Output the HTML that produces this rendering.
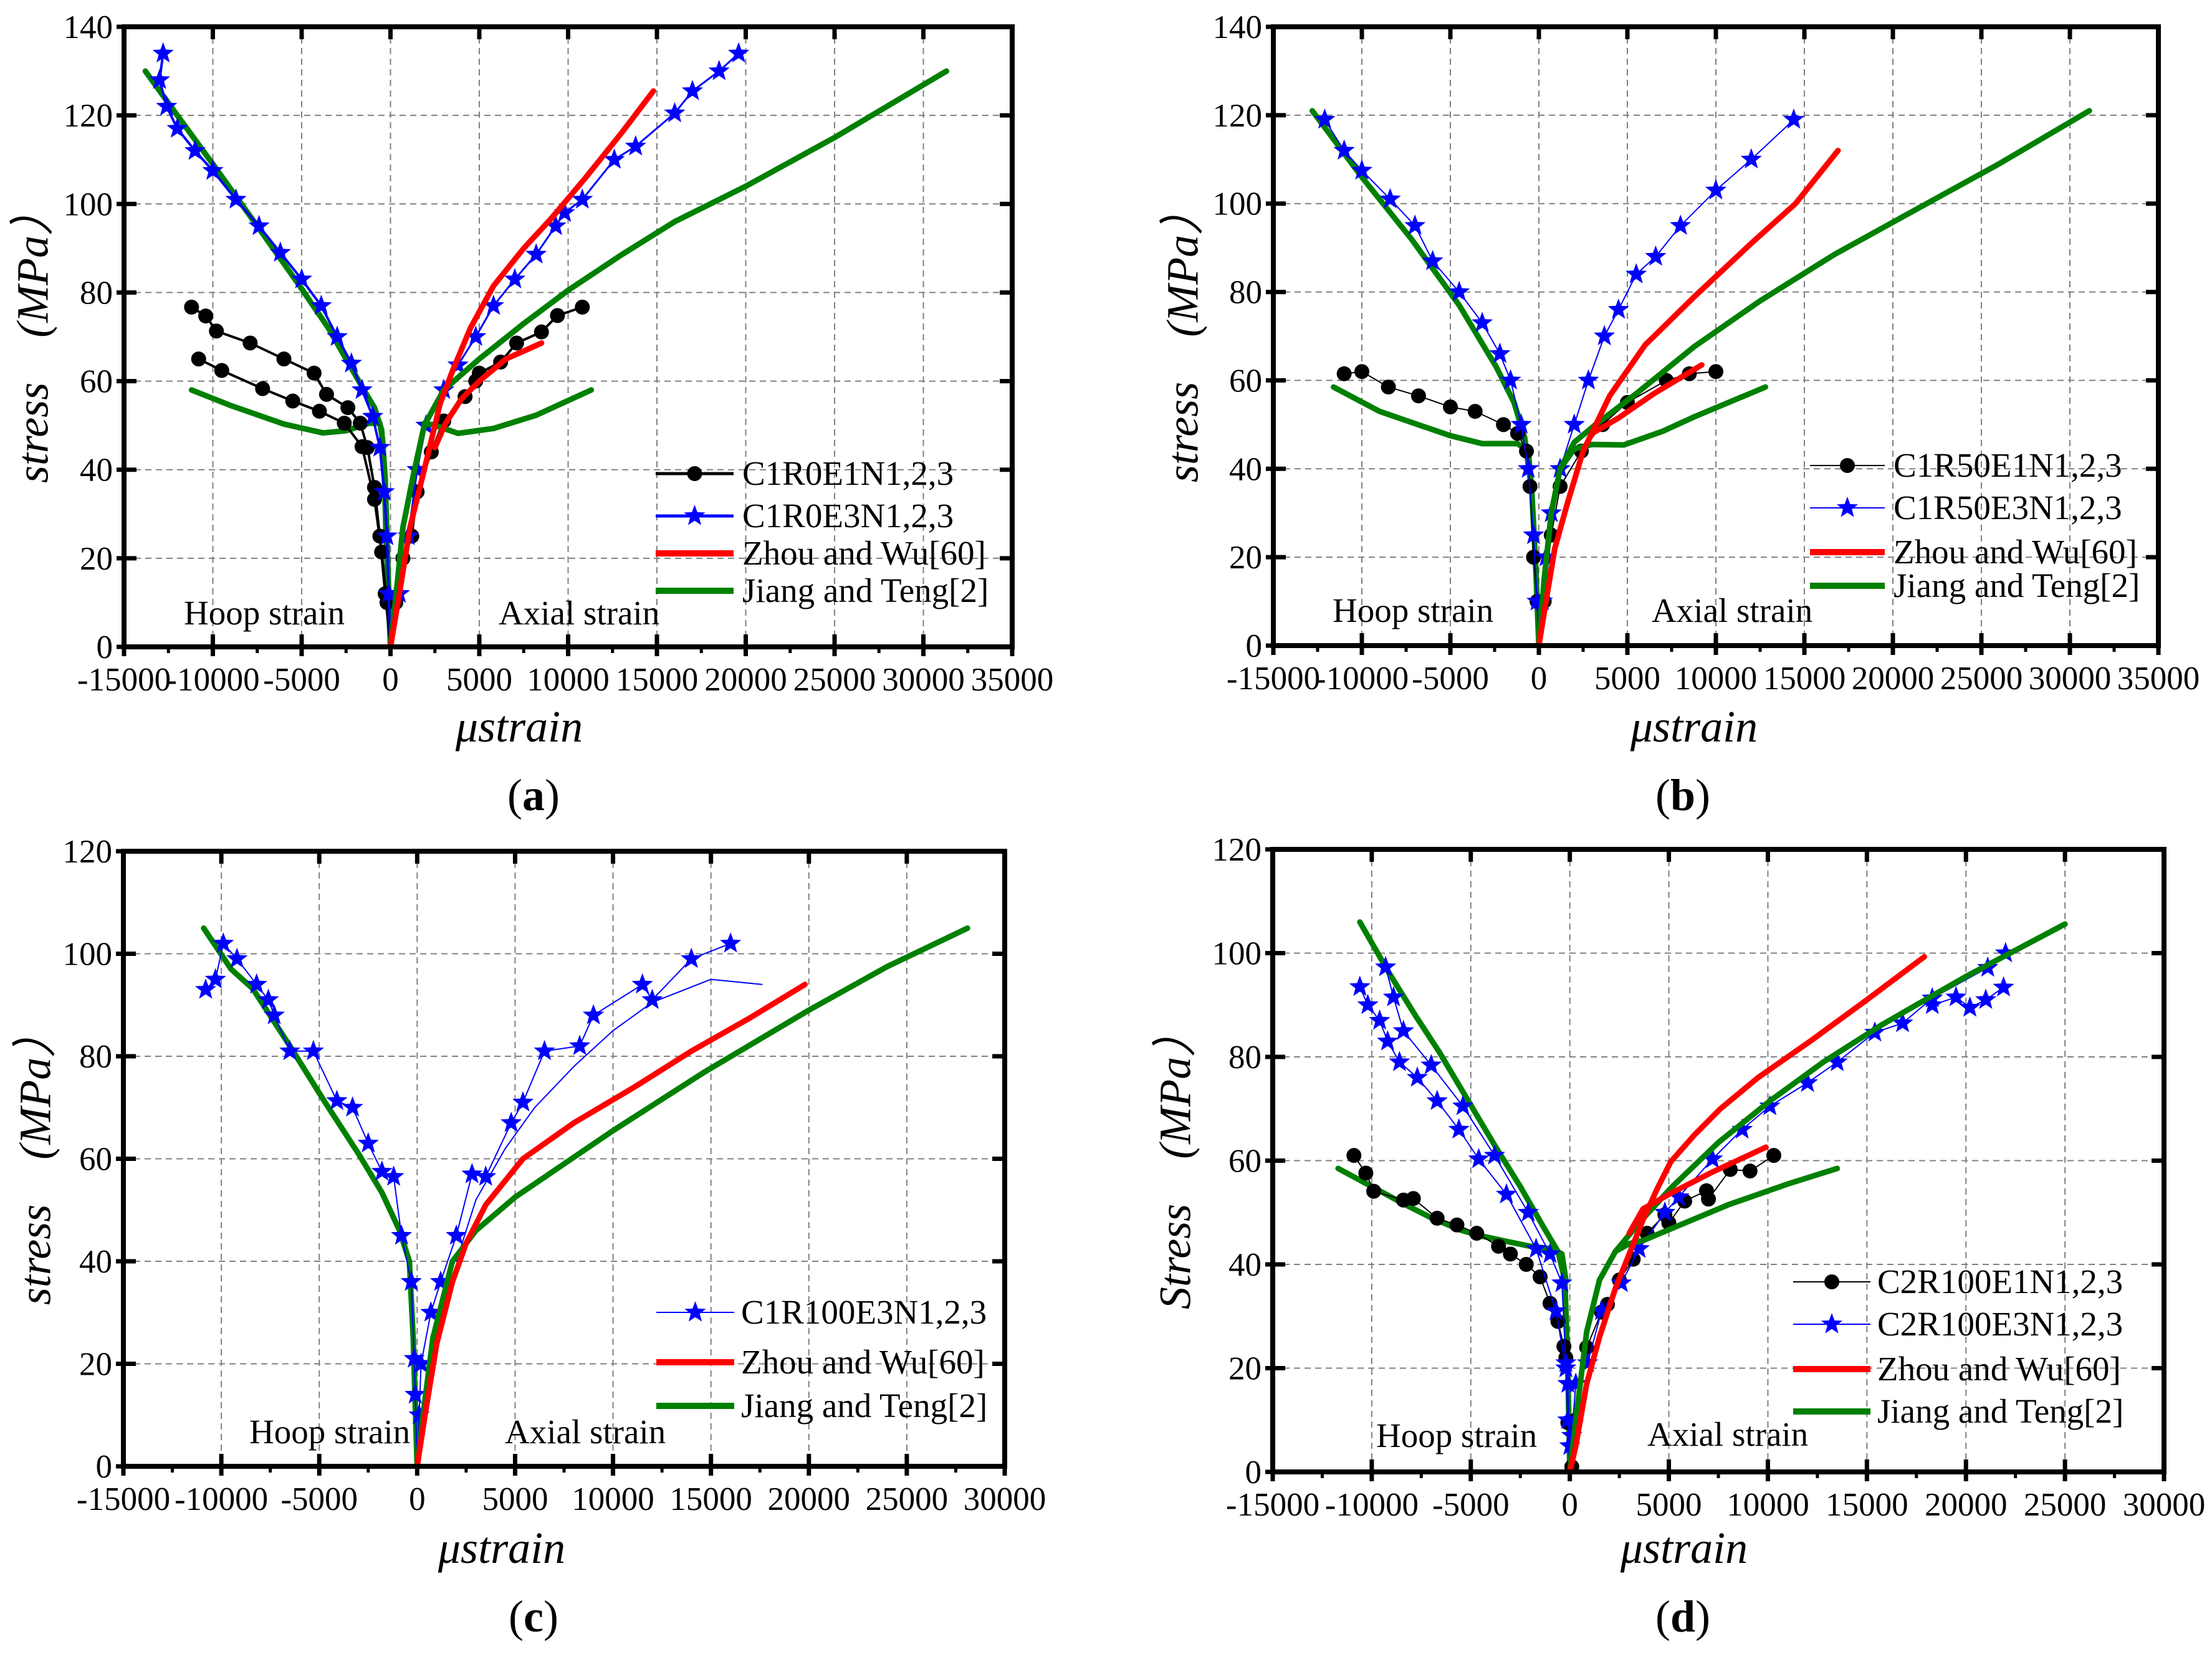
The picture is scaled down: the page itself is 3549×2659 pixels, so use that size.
<!DOCTYPE html>
<html><head><meta charset="utf-8"><style>
html,body{margin:0;padding:0;background:#fff}
svg{display:block;font-family:"Liberation Serif",serif}
</style></head><body>
<svg id="fig" xmlns="http://www.w3.org/2000/svg" width="3549" height="2659" viewBox="0 0 3549 2659"></svg>
<script>
// ---------- DATA (microstrain, MPa) ----------
// Panel (a)
const a_jt_hoop1 = [[-13800,130],[-12000,120],[-10000,109],[-7500,95],[-5300,82.6],[-3500,72],[-2500,65],[-1500,58],[-900,54],[-500,49],[-350,40],[-250,25],[-100,10],[0,0]];
const a_jt_hoop2 = [[-11200,58],[-9000,54.5],[-6000,50.3],[-3800,48.3],[-2500,48.8],[-1200,50.5],[-600,50.5],[-450,47],[-300,38],[-200,25],[-80,10],[0,0]];
const a_jt_ax1 = [[0,0],[400,15],[700,27],[1300,39],[1900,50],[3000,58],[5000,65],[7500,73],[10000,80.5],[13000,88.5],[16000,96],[20000,104],[25000,115],[31300,130]];
const a_jt_ax2 = [[1900,50.5],[2500,50],[3800,48.2],[5800,49.3],[8200,52.3],[11300,58]];
const a_zw_ax1 = [[0,0],[500,12],[1100,27],[1900,40],[2800,55],[3500,62.4],[4500,72],[5800,81.5],[7500,90],[9000,96.5],[11000,106],[13000,116],[14800,125.5]];
const a_zw_ax2 = [[2500,45],[3100,50.5],[4000,56],[5000,60],[6500,65],[8500,68.6]];
const a_e3_ax = [[0,0],[500,12],[1000,25],[1500,40],[2000,50],[3000,58],[3800,63.6],[4800,70],[5800,77],[7000,83],[8200,88.6],[9300,95],[9800,98],[10800,101],[12600,110],[13800,113],[16000,120.5],[17000,125.5],[18500,130],[19600,134]];
const a_e3_hoop = [[-12800,134],[-13000,128],[-12600,122],[-12000,117],[-11000,112],[-10000,107.5],[-8700,101],[-7400,95],[-6200,89],[-5000,83],[-3900,77],[-3000,70],[-2200,64],[-1600,58],[-1000,52],[-600,45],[-350,35],[-200,25],[-100,12],[0,0]];
const a_e1_hoop1 = [[-11200,76.7],[-10400,74.7],[-9800,71.3],[-7900,68.6],[-6000,65],[-4300,61.8],[-3600,57],[-2400,54],[-1700,50.5],[-1300,45],[-900,36],[-600,25],[-300,12],[0,0]];
const a_e1_hoop2 = [[-10800,65],[-9500,62.4],[-7200,58.3],[-5500,55.5],[-4000,53.2],[-2600,50.5],[-1600,45.2],[-900,33.3],[-500,21.4],[-200,10],[0,0]];
const a_e1_ax = [[0,0],[300,10],[700,20],[1200,25],[1500,35],[2300,44],[3000,51],[4200,56.5],[4800,60],[5000,61.8],[6200,64.3],[7100,68.6],[8500,71.1],[9400,74.8],[10800,76.7]];
// Panel (b)
const b_jt_hoop1 = [[-12800,121],[-10000,106],[-7200,92],[-4500,77],[-2400,63],[-1400,55],[-800,47],[-400,35],[-200,20],[0,0]];
const b_jt_hoop2 = [[-11600,58.5],[-9000,53],[-7200,50.5],[-5000,47.5],[-3200,45.7],[-1200,45.7],[-600,44],[-400,35]];
const b_jt_ax1 = [[0,0],[300,15],[700,30],[1200,40],[2000,46],[3200,50],[5500,57],[8800,67.7],[12500,78],[16700,88.5],[21000,98],[26000,109],[31100,121]];
const b_jt_ax2 = [[1200,40],[2000,44.5],[3000,45.5],[4800,45.4],[7000,48.5],[8800,51.8],[12800,58.5]];
const b_zw_ax1 = [[0,0],[400,10],[900,22],[1600,32],[2500,44],[4000,56.5],[6000,68],[8800,79],[12000,91],[14500,100],[16900,112]];
const b_zw_ax2 = [[2500,44],[3000,48],[4500,51.5],[6500,57],[9200,63.5]];
const b_e3_ax = [[0,0],[200,10],[400,20],[700,30],[1200,40],[2000,50],[2800,60],[3700,70],[4500,76],[5500,84],[6600,88],[8000,95],[10000,103],[12000,110],[14400,119]];
const b_e3_hoop = [[-12100,119],[-11000,112],[-10000,107.5],[-8400,101],[-7000,95],[-6000,87],[-4500,80],[-3200,73],[-2200,66],[-1600,60],[-1000,50],[-600,40],[-300,25],[-100,10],[0,0]];
const b_e1_hoop = [[-11000,61.5],[-10000,62],[-8500,58.5],[-6800,56.5],[-5000,54],[-3600,53],[-2000,50],[-1200,48],[-700,44],[-500,36],[-300,20],[-100,10],[0,0]];
const b_e1_ax = [[0,0],[300,10],[700,25],[1200,36],[2400,44],[3600,50],[5000,55],[7200,60],[8500,61.5],[10000,62]];
// Panel (c)
const c_jt_hoop = [[-10900,105],[-9500,97],[-8400,93.2],[-6500,82],[-4700,71],[-3000,61],[-1800,53.4],[-900,46],[-400,40],[-200,25],[-80,10],[0,0]];
const c_jt_ax = [[0,0],[300,10],[800,25],[1800,40],[3000,46],[5000,52.5],[7500,59],[10000,65.5],[14700,77],[20000,89],[24000,97.5],[28100,105]];
const c_zw_ax = [[0,0],[400,10],[1000,24],[1800,36],[2500,43.5],[3500,51],[5400,60],[8000,67],[11100,74],[14000,81],[17000,87.5],[19800,94]];
const c_e3_ax = [[0,0],[100,10],[200,20],[700,30],[1200,36],[2000,45],[2800,57],[3500,56.5],[4800,67],[5400,71],[6500,81],[8300,82],[9000,88],[11500,94],[12000,91],[14000,99],[16000,102]];
const c_e3_ax2 = [[2000,40],[3000,52],[4500,62],[6000,70],[8000,78],[10000,85],[12000,90.5],[15000,95],[17600,94]];
const c_e3_hoop = [[-10800,93],[-10300,95],[-9900,102],[-9200,99],[-8200,94],[-7600,91],[-7300,88],[-6500,81],[-5300,81],[-4100,71.3],[-3300,70],[-2500,63],[-1800,57.5],[-1200,56.5],[-800,45],[-300,36],[-150,21],[-100,14],[0,0]];
// Panel (d)
const d_jt_hoop1 = [[-10600,106],[-9100,96],[-7800,88],[-6600,81],[-5200,72],[-3800,63],[-2500,55],[-1300,47],[-600,42.5],[-250,37],[-100,20],[0,0]];
const d_jt_hoop2 = [[-11700,58.5],[-10000,55],[-8400,51.7],[-7000,49],[-5500,46.6],[-4500,45.5],[-3400,44.6],[-2000,43.5],[-900,43],[-400,42],[-200,37]];
const d_jt_ax1 = [[0,0],[300,10],[850,27],[1500,37],[2300,42.5],[3500,48],[5100,54.7],[7500,63.5],[10100,71.5],[12800,79],[15800,86.3],[20000,95.5],[25000,105.6]];
const d_jt_ax2 = [[2300,42.5],[3000,44],[3700,44.6],[5500,47.5],[8000,51.5],[11000,55.5],[13500,58.5]];
const d_zw_ax1 = [[0,0],[300,5],[850,17],[1500,26],[2300,35.4],[3000,42],[3700,48.6],[4400,54.5],[5100,59.8],[6300,65],[7600,70],[9500,76],[12200,83.2],[15000,91],[17900,99.3]];
const d_zw_ax2 = [[3000,46],[3700,50.7],[5100,53.7],[7200,57.8],[9900,62.6]];
const d_e3_ax = [[0,0],[100,7],[300,17],[900,21],[1600,31],[2600,36.4],[3500,43],[4800,50],[5500,53],[7200,60.3],[8700,66],[10100,70.5],[12000,75],[13500,79],[15400,84.7],[16800,86.5],[18300,91.3],[21100,97.2],[22000,100]];
const d_e3_ax2 = [[18300,90],[19500,91.5],[20200,89.5],[21000,91],[21900,93.4]];
const d_e3_hoop1 = [[-10600,93.5],[-10200,90],[-9600,87],[-9200,83],[-8600,79],[-7700,76],[-6700,71.5],[-5600,66],[-4600,60.3],[-3200,53.5],[-1700,43],[-700,31],[-200,20],[-100,10],[0,0]];
const d_e3_hoop2 = [[-9300,97.3],[-8900,91.5],[-8400,85],[-7000,78.4],[-5400,70.5],[-3800,61],[-2100,50],[-1000,42],[-400,36.4],[-200,21],[-100,17],[0,5]];
const d_e1_hoop = [[-10900,61],[-10300,57.6],[-9900,54.1],[-8400,52.4],[-7900,52.7],[-6700,48.9],[-5700,47.6],[-4700,46],[-3600,43.5],[-3000,42],[-2200,40],[-1500,37.6],[-1000,32.5],[-600,29],[-300,24.2],[-200,22],[-100,9.5],[0,0]];
const d_e1_ax = [[0,0],[100,1],[300,10],[850,24],[1600,30.8],[1900,32.3],[2500,37],[3200,41],[3900,46],[4800,49.6],[5000,48],[5800,52.2],[6900,54.2],[7000,52.6],[8100,58.3],[9100,58],[10300,61]];

const xTicksA = [-15000,-10000,-5000,0,5000,10000,15000,20000,25000,30000,35000];
const xTicksC = [-15000,-10000,-5000,0,5000,10000,15000,20000,25000,30000];
const yTicks140 = [0,20,40,60,80,100,120,140];
const yTicks120 = [0,20,40,60,80,100,120];

// ---------- RENDER ----------
const NS='http://www.w3.org/2000/svg';
const svg=document.getElementById('fig');
function mk(tag,attrs,parent){const e=document.createElementNS(NS,tag);for(const k in attrs)e.setAttribute(k,attrs[k]);(parent||svg).appendChild(e);return e;}
function starPath(cx,cy,r){let d='';for(let i=0;i<10;i++){const rr=i%2?r*0.42:r;const a=-Math.PI/2+i*Math.PI/5;d+=(i?'L':'M')+(cx+rr*Math.cos(a)).toFixed(1)+','+(cy+rr*Math.sin(a)).toFixed(1);}return d+'Z';}
const BLACK='#000',BLUE='#0000ff',RED='#ff0000',GREEN='#008000';

const panels=[
 {id:'a',L:199,T:43,R:1624,B:1038,xt:xTicksA,yt:yTicks140,ytitle:'stress\u3000(MPa\uff09',ytx:60,xtitleX:833,xtitleY:1190,capX:856,capY:1300,
  series:[
   {n:'jiang-teng-hoop-upper',d:a_jt_hoop1,c:GREEN,w:9},{n:'jiang-teng-hoop-lower',d:a_jt_hoop2,c:GREEN,w:9},
   {n:'e1-hoop-1',d:a_e1_hoop1,c:BLACK,w:4,m:'o'},{n:'e1-hoop-2',d:a_e1_hoop2,c:BLACK,w:4,m:'o'},{n:'e1-axial',d:a_e1_ax,c:BLACK,w:4,m:'o'},
   {n:'e3-hoop',d:a_e3_hoop,c:BLUE,w:4,m:'*'},{n:'e3-axial',d:a_e3_ax,c:BLUE,w:3,m:'*'},
   {n:'jiang-teng-axial-upper',d:a_jt_ax1,c:GREEN,w:9},{n:'jiang-teng-axial-lower',d:a_jt_ax2,c:GREEN,w:9},
   {n:'zhou-wu-axial-upper',d:a_zw_ax1,c:RED,w:9},{n:'zhou-wu-axial-lower',d:a_zw_ax2,c:RED,w:9}],
  legend:{x1:1052,x2:1177,tx:1191,rows:[[760,'C1R0E1N1,2,3',BLACK,5,'o'],[828,'C1R0E3N1,2,3',BLUE,5,'*'],[888,'Zhou and Wu[60]',RED,10],[948,'Jiang and Teng[2]',GREEN,10]]},
  hoop:[295,1002],axial:[800,1002]},
 {id:'b',L:2043,T:43,R:3463,B:1036,xt:xTicksA,yt:yTicks140,ytitle:'stress\u3000(MPa\uff09',ytx:1905,xtitleX:2718,xtitleY:1190,capX:2700,capY:1300,
  series:[
   {n:'jiang-teng-hoop-upper',d:b_jt_hoop1,c:GREEN,w:9},{n:'jiang-teng-hoop-lower',d:b_jt_hoop2,c:GREEN,w:9},
   {n:'e1-hoop',d:b_e1_hoop,c:BLACK,w:2,m:'o'},{n:'e1-axial',d:b_e1_ax,c:BLACK,w:2,m:'o'},
   {n:'e3-hoop',d:b_e3_hoop,c:BLUE,w:2,m:'*'},{n:'e3-axial',d:b_e3_ax,c:BLUE,w:2,m:'*'},
   {n:'jiang-teng-axial-upper',d:b_jt_ax1,c:GREEN,w:9},{n:'jiang-teng-axial-lower',d:b_jt_ax2,c:GREEN,w:9},
   {n:'zhou-wu-axial-upper',d:b_zw_ax1,c:RED,w:9},{n:'zhou-wu-axial-lower',d:b_zw_ax2,c:RED,w:9}],
  legend:{x1:2904,x2:3024,tx:3038,rows:[[747,'C1R50E1N1,2,3',BLACK,2,'o'],[815,'C1R50E3N1,2,3',BLUE,2,'*'],[886,'Zhou and Wu[60]',RED,10],[940,'Jiang and Teng[2]',GREEN,10]]},
  hoop:[2138,998],axial:[2650,998]},
 {id:'c',L:198,T:1366,R:1612,B:2353,xt:xTicksC,yt:yTicks120,ytitle:'stress\u3000(MPa\uff09',ytx:64,xtitleX:805,xtitleY:2508,capX:856,capY:2618,
  series:[
   {n:'jiang-teng-hoop',d:c_jt_hoop,c:GREEN,w:9},
   {n:'e3-hoop',d:c_e3_hoop,c:BLUE,w:2,m:'*'},{n:'e3-axial',d:c_e3_ax,c:BLUE,w:2,m:'*'},{n:'e3-axial-2',d:c_e3_ax2,c:BLUE,w:2},
   {n:'jiang-teng-axial',d:c_jt_ax,c:GREEN,w:9},{n:'zhou-wu-axial',d:c_zw_ax,c:RED,w:9}],
  legend:{x1:1053,x2:1178,tx:1189,rows:[[2106,'C1R100E3N1,2,3',BLUE,2,'*'],[2186,'Zhou and Wu[60]',RED,10],[2256,'Jiang and Teng[2]',GREEN,10]]},
  hoop:[400,2316],axial:[810,2316]},
 {id:'d',L:2042,T:1363,R:3472,B:2362,xt:xTicksC,yt:yTicks120,ytitle:'Stress\u3000(MPa\uff09',ytx:1893,xtitleX:2702,xtitleY:2508,capX:2700,capY:2618,
  series:[
   {n:'jiang-teng-hoop-upper',d:d_jt_hoop1,c:GREEN,w:9},{n:'jiang-teng-hoop-lower',d:d_jt_hoop2,c:GREEN,w:9},
   {n:'e1-hoop',d:d_e1_hoop,c:BLACK,w:2,m:'o'},{n:'e1-axial',d:d_e1_ax,c:BLACK,w:2,m:'o'},
   {n:'e3-hoop-1',d:d_e3_hoop1,c:BLUE,w:2,m:'*'},{n:'e3-hoop-2',d:d_e3_hoop2,c:BLUE,w:2,m:'*'},
   {n:'e3-axial',d:d_e3_ax,c:BLUE,w:2,m:'*'},{n:'e3-axial-2',d:d_e3_ax2,c:BLUE,w:2,m:'*'},
   {n:'jiang-teng-axial-upper',d:d_jt_ax1,c:GREEN,w:9},{n:'jiang-teng-axial-lower',d:d_jt_ax2,c:GREEN,w:9},
   {n:'zhou-wu-axial-upper',d:d_zw_ax1,c:RED,w:9},{n:'zhou-wu-axial-lower',d:d_zw_ax2,c:RED,w:9}],
  legend:{x1:2877,x2:3001,tx:3012,rows:[[2057,'C2R100E1N1,2,3',BLACK,2,'o'],[2125,'C2R100E3N1,2,3',BLUE,2,'*'],[2197,'Zhou and Wu[60]',RED,10],[2265,'Jiang and Teng[2]',GREEN,10]]},
  hoop:[2208,2322],axial:[2643,2320]}
];

function marker(g,type,x,y,c){
  if(type==='o'){const e=mk('circle',{cx:x,cy:y,r:12,fill:c},g);}
  else{const e=mk('path',{d:starPath(x,y,18),fill:c},g);}
}

panels.forEach(p=>{
  const g=mk('g',{});
  
  
  const xmin=p.xt[0],xmax=p.xt[p.xt.length-1],ymax=p.yt[p.yt.length-1];
  const X=v=>p.L+(v-xmin)/(xmax-xmin)*(p.R-p.L);
  const Y=v=>p.B-v/ymax*(p.B-p.T);
  const grid=mk('g',{stroke:'#808080','stroke-width':2,'stroke-dasharray':'10,7'},g);
  
  
  p.xt.slice(1,-1).forEach(t=>mk('line',{x1:X(t),x2:X(t),y1:p.T,y2:p.B},grid));
  p.yt.slice(1,-1).forEach(t=>mk('line',{x1:p.L,x2:p.R,y1:Y(t),y2:Y(t)},grid));
  const tk=mk('g',{stroke:'#000','stroke-width':7},g);
  
  
  p.xt.forEach(t=>{mk('line',{x1:X(t),x2:X(t),y1:p.B-20,y2:p.B+15},tk);mk('line',{x1:X(t),x2:X(t),y1:p.T,y2:p.T+20},tk);});
  for(let i=0;i<p.xt.length-1;i++){const m=(p.xt[i]+p.xt[i+1])/2;mk('line',{x1:X(m),x2:X(m),y1:p.B,y2:p.B+10,'stroke-width':5},tk);}
  p.yt.forEach(t=>{mk('line',{x1:p.L-12,x2:p.L+20,y1:Y(t),y2:Y(t)},tk);mk('line',{x1:p.R-20,x2:p.R,y1:Y(t),y2:Y(t)},tk);});
  p.xt.forEach(t=>{const e=mk('text',{x:X(t),y:p.B+70,'font-size':53,'text-anchor':'middle'},g);e.textContent=t;});
  p.yt.forEach(t=>{const e=mk('text',{x:p.L-18,y:Y(t)+18,'font-size':53,'text-anchor':'end'},g);e.textContent=t;});
  p.series.forEach(s=>{
    const sg=mk('g',{},g);
    
    
    const pts=s.d.map(q=>X(q[0]).toFixed(1)+','+Y(q[1]).toFixed(1)).join(' ');
    const pl=mk('polyline',{points:pts,fill:'none',stroke:s.c,'stroke-width':s.w,'stroke-linejoin':'round','stroke-linecap':'round'},sg);
    
    
    if(s.m){s.d.forEach(q=>{if(q[1]>0)marker(sg,s.m,X(q[0]),Y(q[1]),s.c);});}
  });
  const fr=mk('rect',{x:p.L,y:p.T,width:p.R-p.L,height:p.B-p.T,fill:'none',stroke:'#000','stroke-width':8},g);
  
  
  const lg=mk('g',{},g);
  
  
  p.legend.rows.forEach(r=>{
    const eg=mk('g',{},lg);
    
    
    mk('line',{x1:p.legend.x1,x2:p.legend.x2,y1:r[0],y2:r[0],stroke:r[2],'stroke-width':r[3]},eg);
    if(r[4])marker(eg,r[4],(p.legend.x1+p.legend.x2)/2,r[0],r[2]);
    const t=mk('text',{x:p.legend.tx,y:r[0]+18,'font-size':55},eg);t.textContent=r[1];
  });
  const h=mk('text',{x:p.hoop[0],y:p.hoop[1],'font-size':55},g);h.textContent='Hoop strain';
  
  const a=mk('text',{x:p.axial[0],y:p.axial[1],'font-size':55},g);a.textContent='Axial strain';
  
  const cy=(p.T+p.B)/2;
  const yt=mk('text',{x:p.ytx,y:cy,'font-size':72,'font-style':'italic','text-anchor':'middle',transform:'rotate(-90 '+p.ytx+' '+cy+')','dominant-baseline':'middle'},g);
  yt.textContent=p.ytitle;
  
  const xt=mk('text',{x:p.xtitleX,y:p.xtitleY,'font-size':72,'font-style':'italic','text-anchor':'middle'},g);
  xt.textContent='\u03bcstrain';
  
  const cp=mk('text',{x:p.capX,y:p.capY,'font-size':72,'text-anchor':'middle'},g);
  cp.innerHTML='(<tspan font-weight="bold">'+p.id+'</tspan>)';
  
});
</script>
</body></html>
